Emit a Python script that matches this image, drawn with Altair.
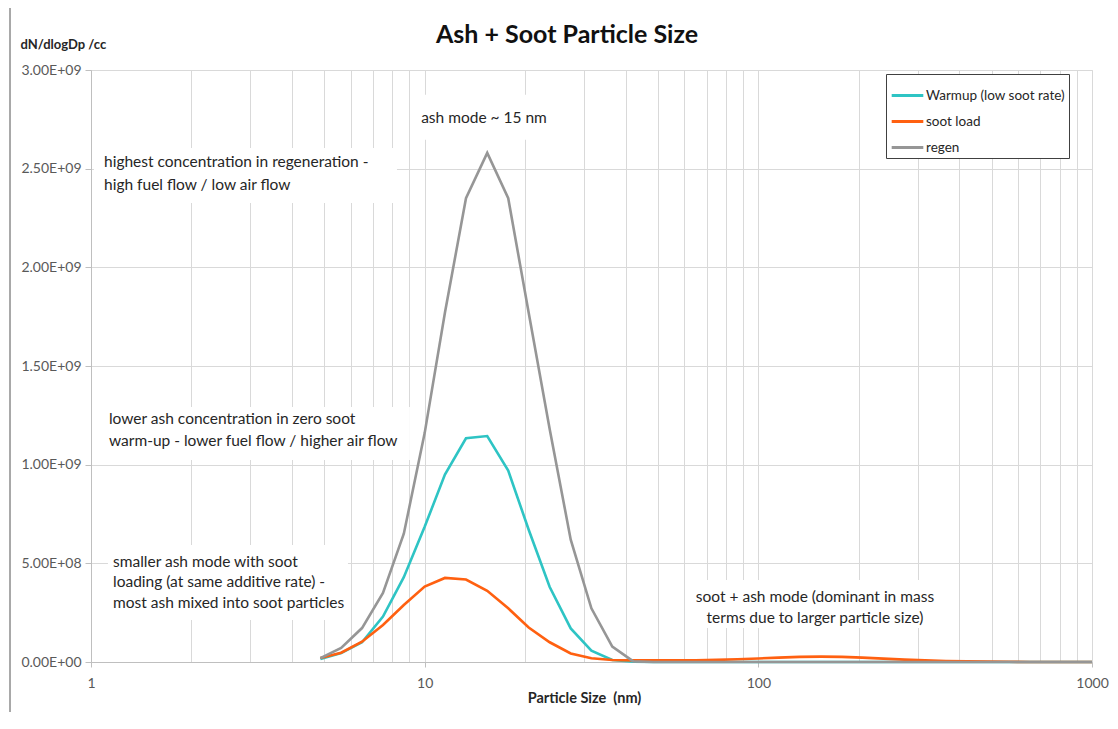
import altair as alt
import pandas as pd

# ---- data ----
sizes_nm = [4.87, 5.62, 6.49, 7.50, 8.66, 10.0, 11.5, 13.3, 15.4, 17.8,
            20.5, 23.7, 27.4, 31.6, 36.5, 42.2, 48.7, 56.2, 64.9, 75.0,
            86.6, 100, 115, 133, 154, 178, 205, 237, 274, 316,
            365, 422, 487, 562, 649, 750, 866, 1000]

warmup = [1.5e7, 4.5e7, 1.0e8, 2.3e8, 4.3e8, 6.85e8, 9.5e8, 1.134e9, 1.145e9, 9.7e8,
          6.7e8, 3.8e8, 1.7e8, 5.7e7, 1.0e7, 2e6, 0, 0, 0, 0,
          0, 0, 0, 0, 0, 0, 0, 0, 0, 0,
          0, 0, 0, 0, 0, 0, 0, 0]

soot_load = [2.0e7, 4.7e7, 1.03e8, 1.88e8, 2.89e8, 3.82e8, 4.26e8, 4.18e8, 3.61e8, 2.72e8,
             1.75e8, 1.0e8, 4.3e7, 1.9e7, 1.0e7, 8e6, 8e6, 8e6, 9e6, 1.1e7,
             1.4e7, 1.8e7, 2.2e7, 2.6e7, 2.7e7, 2.6e7, 2.2e7, 1.7e7, 1.2e7, 8e6,
             5e6, 3e6, 2e6, 1e6, 0, 0, 0, 0]

regen = [2.0e7, 7.1e7, 1.72e8, 3.5e8, 6.5e8, 1.16e9, 1.77e9, 2.35e9, 2.58e9, 2.35e9,
         1.77e9, 1.18e9, 6.2e8, 2.72e8, 7.8e7, 3e6, 0, 0, 0, 0,
         0, 0, 0, 0, 0, 0, 0, 0, 0, 0,
         0, 0, 0, 0, 0, 0, 0, 0]

series_names = ["Warmup (low soot rate)", "soot load", "regen"]
series_colors = ["#2EC4C4", "#FF6010", "#969696"]

chart_title = "Ash + Soot Particle Size"

x_grid = [1, 2, 3, 4, 5, 6, 7, 8, 9, 10, 20, 30, 40, 50, 60, 70, 80, 90,
          100, 200, 300, 400, 500, 600, 700, 800, 900, 1000]
y_ticks = [0, 5e8, 1e9, 1.5e9, 2e9, 2.5e9, 3e9]

# annotations (x in nm, y in dN/dlogDp)
ann_text = ["ash mode ~ 15 nm",
            "highest concentration in regeneration -", "high fuel flow / low air flow",
            "lower ash concentration in zero soot", "warm-up - lower fuel flow / higher air flow",
            "smaller ash mode with soot", "loading (at same additive rate) -",
            "most ash mixed into soot particles",
            "soot + ash mode (dominant in mass", "terms due to larger particle size)"]
ann_x = [15.06, 1.094, 1.094, 1.132, 1.132, 1.164, 1.164, 1.164, 147.8, 147.8]
ann_y = [2.757e9, 2.534e9, 2.417e9, 1.2315e9, 1.12e9, 5.07e8, 4.05e8, 2.99e8, 3.29e8, 2.23e8]
ann_align = ["center", "left", "left", "left", "left", "left", "left", "left", "center", "center"]

# white boxes behind annotations (nm / value extents)
box_x1 = [9.35, 1.021, 1.064, 1.124, 61.5]
box_x2 = [24.6, 8.26, 9.03, 5.89, 362]
box_y1 = [2.874e9, 2.605e9, 1.292e9, 5.93e8, 4.16e8]
box_y2 = [2.646e9, 2.326e9, 1.024e9, 2.13e8, 1.72e8]

FONT = "Lato"
TXT = "#262626"

rows = []
for name, vals in zip(series_names, [warmup, soot_load, regen]):
    for i, (s, v) in enumerate(zip(sizes_nm, vals)):
        rows.append({"size": s, "value": v, "series": name, "idx": i})
df = pd.DataFrame(rows)

ann_df = pd.DataFrame({"x": ann_x, "y": ann_y, "text": ann_text, "align": ann_align})
box_df = pd.DataFrame({"x1": box_x1, "x2": box_x2, "y1": box_y1, "y2": box_y2})
title_df = pd.DataFrame({"t": [chart_title]})

xscale = alt.Scale(type="log", domain=[1, 1000], nice=False)
yscale = alt.Scale(domain=[0, 3e9], nice=False)

decade_test = "datum.value == 1 || datum.value == 10 || datum.value == 100 || datum.value == 1000"

x_axis = alt.Axis(
    values=x_grid, grid=True, gridColor="#d9d9d9", gridWidth=1,
    labelExpr="(" + decade_test + ") ? datum.label : ''",
    format="d", labelFont=FONT, labelFontSize=14, labelColor="#595959",
    labelPadding=9, labelFlush=False, labelOverlap=False,
    ticks=True, tickSize=5, tickColor="#bfbfbf",
    tickOpacity=alt.condition(decade_test, alt.value(1), alt.value(0)),
    domain=True, domainColor="#bfbfbf",
    title="Particle Size\u00a0 (nm)", titleFont=FONT, titleFontSize=14.5, titleFontWeight="bold",
    titleColor=TXT, titleX=493, titleY=36, titleBaseline="middle", titleAnchor="start",
    titleAlign="center",
)

y_axis = alt.Axis(
    values=y_ticks, grid=True, gridColor="#d9d9d9", gridWidth=1,
    labelExpr="datum.value >= 1e9 ? format(datum.value/1e9, '.2f') + 'E+09' : "
              "(datum.value > 0 ? format(datum.value/1e8, '.2f') + 'E+08' : '0.00E+00')",
    labelFont=FONT, labelFontSize=14, labelColor="#595959", labelPadding=4,
    ticks=True, tickSize=6, tickColor="#bfbfbf",
    domain=True, domainColor="#bfbfbf",
    title="dN/dlogDp /cc", titleFont=FONT, titleFontSize=13, titleFontWeight="bold",
    titleColor=TXT, titleAngle=0, titleX=-71, titleY=-26, titleAlign="left",
    titleBaseline="middle",
)

boxes = alt.Chart(box_df).mark_rect(color="white").encode(
    x=alt.X("x1:Q", scale=xscale, axis=x_axis),
    x2="x2:Q",
    y=alt.Y("y1:Q", scale=yscale, axis=y_axis),
    y2="y2:Q",
)

lines = alt.Chart(df).mark_line(strokeWidth=2.6, strokeJoin="miter").encode(
    x=alt.X("size:Q", scale=xscale),
    y=alt.Y("value:Q", scale=yscale),
    color=alt.Color(
        "series:N",
        scale=alt.Scale(domain=series_names, range=series_colors),
        sort=series_names,
        legend=alt.Legend(
            title=None, orient="none", legendX=795, legendY=4,
            fillColor="white", strokeColor="#404040",
            padding=4, symbolType="stroke", symbolSize=1000, symbolStrokeWidth=3,
            labelFont=FONT, labelFontSize=13.5, labelColor=TXT, labelLimit=300,
            labelOffset=1, rowPadding=2, cornerRadius=0,
        ),
    ),
    order="idx:Q",
)

texts_left = alt.Chart(ann_df[ann_df["align"] == "left"]).mark_text(
    font=FONT, fontSize=15.5, color=TXT, baseline="middle", align="left"
).encode(x=alt.X("x:Q", scale=xscale), y=alt.Y("y:Q", scale=yscale), text="text:N")

texts_center = alt.Chart(ann_df[ann_df["align"] == "center"]).mark_text(
    font=FONT, fontSize=15.5, color=TXT, baseline="middle", align="center"
).encode(x=alt.X("x:Q", scale=xscale), y=alt.Y("y:Q", scale=yscale), text="text:N")

title_mark = alt.Chart(title_df).mark_text(
    font=FONT, fontSize=25, fontWeight="bold", color="#111111",
    align="center", baseline="middle",
).encode(text="t:N", x=alt.value(476), y=alt.value(-35))

border = alt.Chart(box_df).mark_rule(color="#a6a6a6", strokeWidth=1).encode(
    x=alt.value(-81), y=alt.value(-70), y2=alt.value(660)
)

chart = alt.layer(boxes, lines, texts_left, texts_center, title_mark, border).properties(
    width=1001, height=592,
    autosize=alt.AutoSizeParams(type="none"),
    padding={"left": 83, "top": 62, "right": 18, "bottom": 50},
).configure_view(stroke=None).configure(background="white")

chart.save("out.html", embed_options={"renderer": "svg", "actions": False})
